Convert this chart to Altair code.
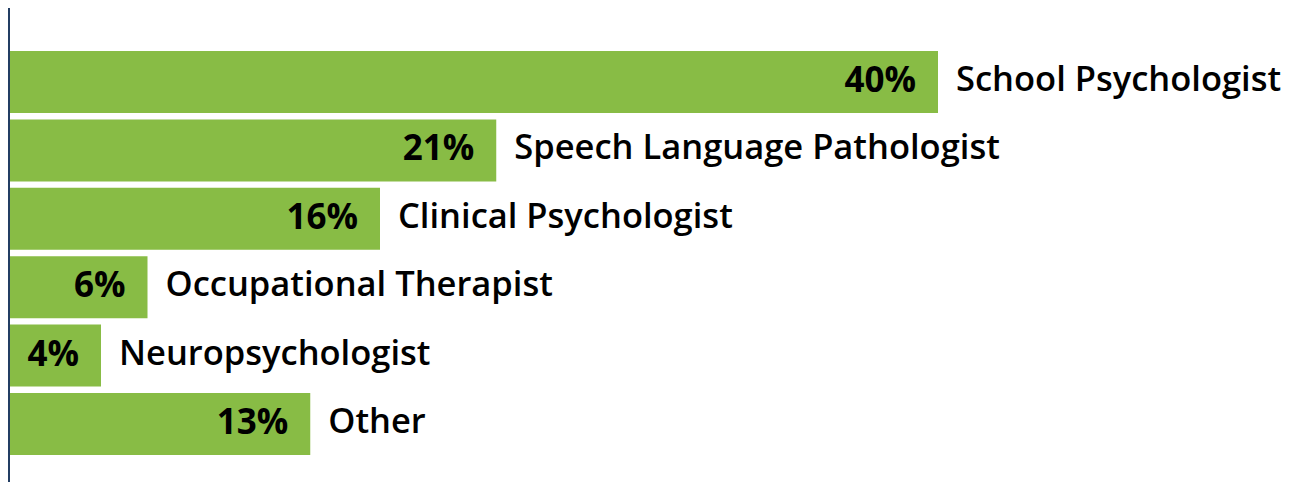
import altair as alt
import pandas as pd

categories = ["School Psychologist", "Speech Language Pathologist", "Clinical Psychologist",
              "Occupational Therapist", "Neuropsychologist", "Other"]
values = [40, 21, 16, 6, 4, 13]
pct_labels = ["40%", "21%", "16%", "6%", "4%", "13%"]

df = pd.DataFrame({"category": categories, "value": values, "pct": pct_labels})

GREEN = "#88BC45"
AXIS = "#233D63"
W = 1280
H = 474
PX_PER_UNIT = 23.25

x = alt.X("value:Q", scale=alt.Scale(domain=[0, W / PX_PER_UNIT], nice=False, zero=True), axis=None)
y = alt.Y("category:N", sort=categories,
          scale=alt.Scale(paddingInner=0.094, paddingOuter=0, range=[43, 447]),
          axis=None)

base = alt.Chart(df)
bars = base.mark_bar(color=GREEN, cornerRadius=0).encode(x=x, y=y)
pct = base.mark_text(align="right", baseline="middle", dx=-22, dy=-1, font="Open Sans",
                     fontSize=35, fontWeight="bold", color="#000000").encode(x=x, y=y, text="pct:N")
lab = base.mark_text(align="left", baseline="middle", dx=18, dy=-1, font="Open Sans",
                     fontSize=34.5, fontWeight=600, color="#000000").encode(x=x, y=y, text="category:N")
axis_line = alt.Chart(df).mark_rule(color=AXIS, strokeWidth=2).encode(
    x=alt.value(1), y=alt.value(-1), y2=alt.value(H + 2)
)

chart = (bars + pct + lab + axis_line).properties(
    width=W, height=H, padding=0, autosize=alt.AutoSizeParams(type="none"),
    background="#ffffff"
).configure_view(strokeWidth=0, stroke="transparent")

chart.save("out.html", embed_options={"renderer": "svg", "actions": False})
